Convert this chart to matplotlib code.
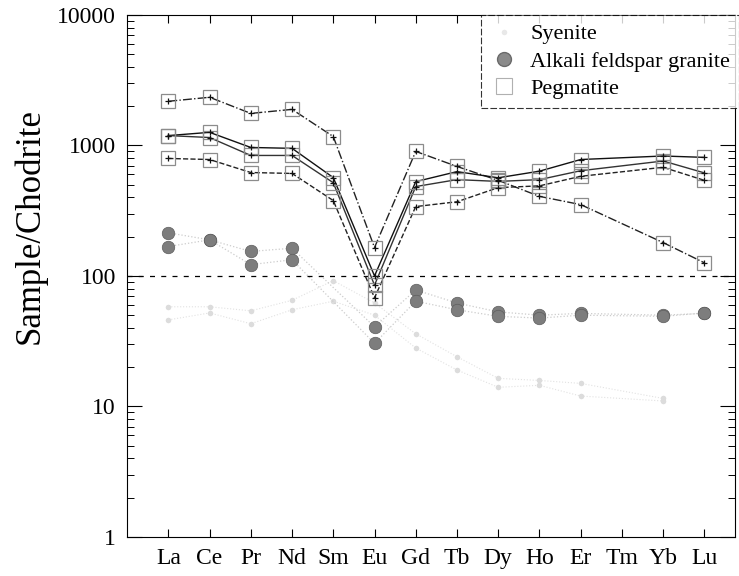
import numpy as np
import matplotlib
matplotlib.use("Agg")
import matplotlib.pyplot as plt
from matplotlib.lines import Line2D
from matplotlib.ticker import LogLocator, NullFormatter, FixedLocator

plt.rcParams['font.family'] = ['Liberation Serif', 'DejaVu Serif']

elements = ["La", "Ce", "Pr", "Nd", "Sm", "Eu", "Gd", "Tb", "Dy", "Ho", "Er", "Tm", "Yb", "Lu"]

# pegmatite samples (Tm not analysed -> nan)
nan = np.nan
peg_a = [2180, 2340, 1760, 1890, 1170, 165, 900, 690, 540, 407, 352, nan, 180, 126]
peg_b = [1190, 1260, 965, 950, 567, 100, 528, 630, 565, 635, 780, nan, 830, 810]
peg_c = [1190, 1150, 838, 838, 518, 85, 484, 547, 530, 547, 640, nan, 760, 616]
peg_d = [795, 780, 620, 610, 378, 68, 340, 370, 475, 490, 580, nan, 680, 540]

# alkali feldspar granite samples
gran_1 = [214, 189, 154, 163, nan, 40.7, 78, 62, 53, 50, 51.6, nan, 50, 51.6]
gran_2 = [168, 189, 122, 133, nan, 30.4, 64, 55, 49, 47.5, 50, nan, 49, 52]

# syenite samples (very faint in the original)
sye_1 = [58, 58, 54, 65, 92, 62, 36, 24, 16.4, 15.8, 15, nan, 11.5, nan]
sye_2 = [46, 52, 43, 55, 64, 50, 28, 19, 14, 14.5, 12, nan, 11, nan]

x = np.arange(1, len(elements) + 1)


def clean(vals):
    v = np.array(vals, dtype=float)
    m = ~np.isnan(v)
    return x[m], v[m]


fig = plt.figure(figsize=(7.39, 5.76), dpi=100)
ax = fig.add_axes([0.172, 0.068, 0.823, 0.906])

# syenite
for s in (sye_1, sye_2):
    xs, ys = clean(s)
    ax.plot(xs, ys, linestyle=":", color="#e2e2e2", lw=0.8, zorder=1)
    ax.plot(xs, ys, linestyle="none", marker="o", ms=4, color="#dcdcdc",
            markeredgecolor="none", zorder=1)

# alkali feldspar granite
for g in (gran_1, gran_2):
    xs, ys = clean(g)
    ax.plot(xs, ys, linestyle=":", color="#cccccc", lw=0.9, zorder=2)
    ax.plot(xs, ys, linestyle="none", marker="o", ms=9, color="#7d7d7d",
            markeredgecolor="#5e5e5e", markeredgewidth=0.5, zorder=3)

# pegmatite
peg_styles = [("-.", "#222222"), ("-", "#111111"), ("-", "#333333"), ("--", "#222222")]
for p, (ls, col) in zip((peg_a, peg_b, peg_c, peg_d), peg_styles):
    xs, ys = clean(p)
    ax.plot(xs, ys, linestyle=ls, color=col, lw=1.0, zorder=4)
    ax.plot(xs, ys, linestyle="none", marker="s", ms=10, markerfacecolor="none",
            markeredgecolor="#8c8c8c", markeredgewidth=0.9, zorder=5)
    ax.plot(xs, ys, linestyle="none", marker="+", ms=5, color="#111111",
            markeredgewidth=0.9, zorder=6)

ax.axhline(100, color="black", lw=0.9, linestyle=(0, (4, 5)), zorder=2)

ax.set_yscale("log")
ax.set_ylim(1, 10000)
ax.set_xlim(0, 14.75)
ax.xaxis.set_major_locator(FixedLocator(x))
ax.set_xticklabels(elements)
ax.yaxis.set_minor_locator(LogLocator(base=10, subs=np.arange(2, 10), numticks=20))
ax.yaxis.set_minor_formatter(NullFormatter())
ax.set_yticks([1, 10, 100, 1000, 10000])
ax.set_yticklabels(["1", "10", "100", "1000", "10000"])

ax.tick_params(axis="both", which="major", direction="in", length=11, width=0.8,
               labelsize=17, top=True, right=True, pad=8)
ax.tick_params(axis="y", which="minor", direction="in", length=5, width=0.7, right=True)
ax.tick_params(axis="x", which="major", length=6)
for sp in ax.spines.values():
    sp.set_linewidth(0.8)

ax.set_ylabel("Sample/Chodrite", fontsize=25)
ax.yaxis.set_label_coords(-0.133, 0.595)

handles = [
    Line2D([], [], linestyle="none", marker="o", ms=4, color="#e8e8e8", markeredgecolor="none"),
    Line2D([], [], linestyle="none", marker="o", ms=10, color="#8a8a8a", markeredgecolor="#6a6a6a"),
    Line2D([], [], linestyle="none", marker="s", ms=11, markerfacecolor="none",
           markeredgecolor="#b0b0b0", markeredgewidth=0.8),
]
leg = ax.legend(handles, ["Syenite", "Alkali feldspar granite", "Pegmatite"],
                loc="upper right", bbox_to_anchor=(1.006, 1.0), fontsize=16,
                frameon=True, fancybox=False, borderpad=0.4, labelspacing=0.3,
                handletextpad=0.6, handlelength=1.2, borderaxespad=0)
leg.get_frame().set_edgecolor("black")
leg.get_frame().set_linewidth(0.8)
leg.get_frame().set_linestyle((0, (6, 2)))
leg.set_zorder(10)

fig.savefig("out.png", dpi=100)
